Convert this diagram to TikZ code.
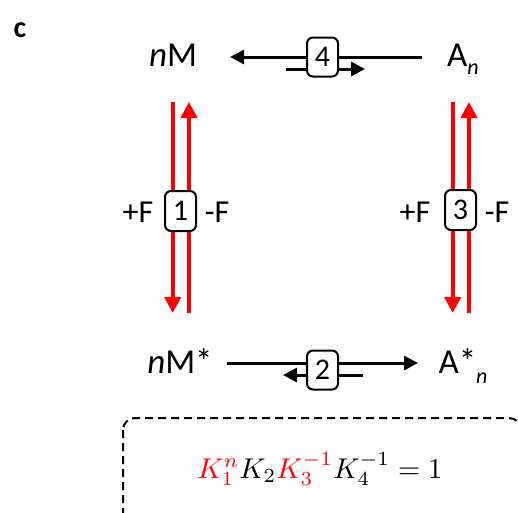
\documentclass[tikz,border=0pt]{standalone}
\usepackage[no-math]{fontspec}
\setmainfont{Carlito}
\usetikzlibrary{arrows.meta}
\begin{document}
\begin{tikzpicture}[x=1pt,y=-1pt,
  lbl/.style={font=\fontsize{35}{40}\selectfont, inner sep=0pt, anchor=base},
  flbl/.style={font=\fontsize{32}{36}\selectfont, inner sep=0pt, anchor=base},
  numbox/.style={draw, line width=2pt, rounded corners=6pt, fill=white, minimum width=31pt, minimum height=39pt, inner sep=0pt, font=\fontsize{30}{34}\selectfont},
  blk/.style={line width=3pt, -{Triangle[length=14pt,width=14pt]}},
  redar/.style={red, line width=4pt, -{Triangle[length=16pt,width=16pt]}}]
\useasboundingbox (0,0) rectangle (518,512);

\node[font=\bfseries\fontsize{30}{34}\selectfont, inner sep=0pt] (c) at (20,30) {c};

% species
\node[lbl] (nM) at (173,66) {\textit{n}M};
\node[lbl] (An) at (463,66) {A\raisebox{-8pt}{\fontsize{22}{24}\selectfont\textit{n}}};
\node[lbl] (nMs) at (180,373) {\textit{n}M*};
\node[lbl] (Ans) at (463,373) {A*\raisebox{-10pt}{\fontsize{22}{24}\selectfont\textit{n}}};

% reaction 4 (top)
\coordinate (t1s) at (422,57);
\coordinate (t1e) at (230,57);
\coordinate (t2s) at (286,69);
\coordinate (t2e) at (365,69);
\draw[blk] (t1s) -- (t1e);
\draw[blk] (t2s) -- (t2e);
\node[numbox] (r4) at (322.5,57) {4};

% reaction 2 (bottom)
\coordinate (b1s) at (227,363);
\coordinate (b1e) at (418,363);
\coordinate (b2s) at (363,375);
\coordinate (b2e) at (283,375);
\draw[blk] (b1s) -- (b1e);
\draw[blk] (b2s) -- (b2e);
\node[numbox] (r2) at (322.5,370) {2};

% reaction 1 (left)
\coordinate (l1s) at (172.7,102);
\coordinate (l1e) at (172.7,313);
\coordinate (l2s) at (189,313);
\coordinate (l2e) at (189,102);
\draw[redar] (l1s) -- (l1e);
\draw[redar] (l2s) -- (l2e);
\node[numbox, minimum height=40pt] (r1) at (180.5,211) {1};
\node[flbl] (pF1) at (138,222) {+F};
\node[flbl] (mF1) at (217,222) {-F};

% reaction 3 (right)
\coordinate (r1s) at (452.7,102);
\coordinate (r1e) at (452.7,313);
\coordinate (r2s) at (469,313);
\coordinate (r2e) at (469,102);
\draw[redar] (r1s) -- (r1e);
\draw[redar] (r2s) -- (r2e);
\node[numbox, minimum height=40pt] (r3) at (460.5,210) {3};
\node[flbl] (pF3) at (415,222) {+F};
\node[flbl] (mF3) at (497,222) {-F};

% relation box
\draw[line width=2pt, dash pattern=on 8pt off 5pt, rounded corners=12pt] (123,418) rectangle (521,530);
\node[inner sep=0pt, anchor=base] (eq) at (320,478)
  {\resizebox{245pt}{!}{$\color{red}K_1^n\color{black}K_2\color{red}K_3^{-1}\color{black}K_4^{-1}=1$}};
\end{tikzpicture}
\end{document}
